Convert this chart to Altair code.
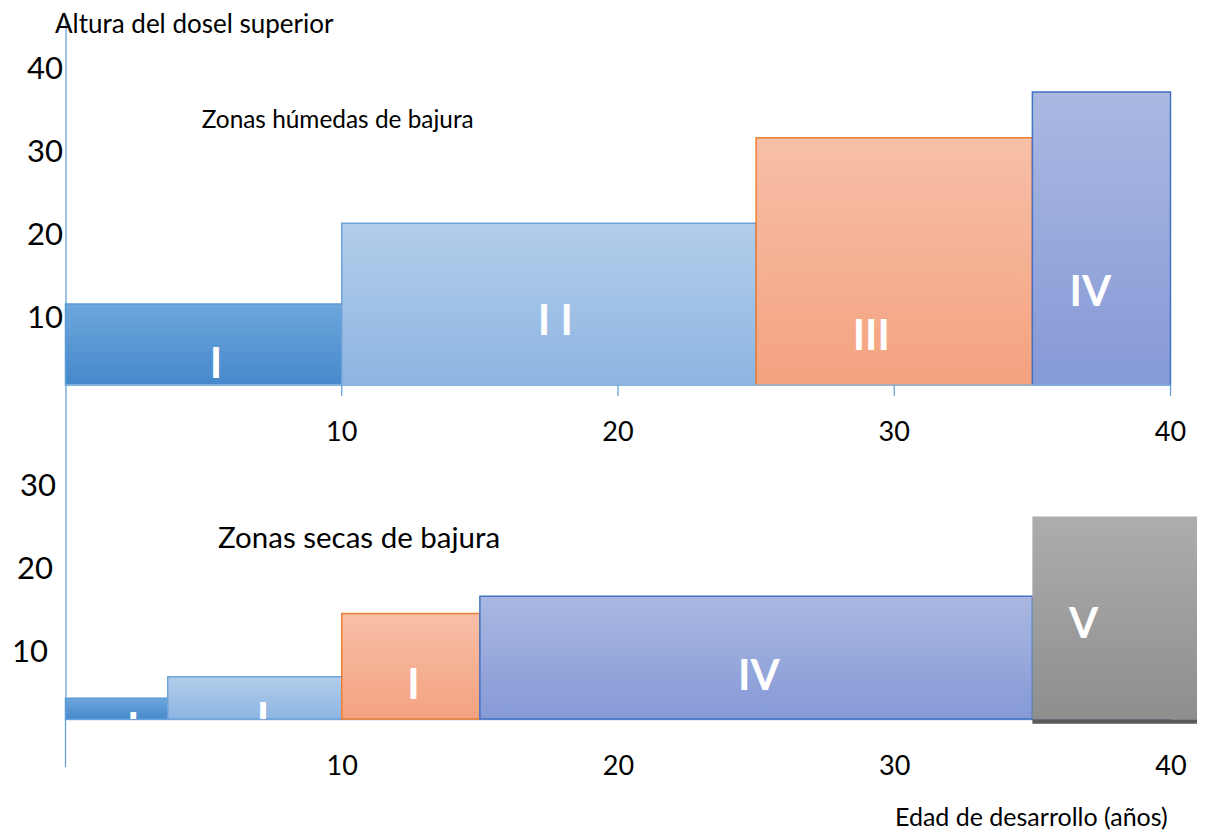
import altair as alt
import pandas as pd

# ---------------- data ----------------
# upper panel: "Zonas húmedas de bajura"
top_cls = ["I", "II", "III", "IV"]
top_x0 = [0, 10, 25, 35]
top_x1 = [10, 25, 35, 40]
top_h = [9.75, 19.5, 29.8, 35.3]

# lower panel: "Zonas secas de bajura"
bot_cls = ["I", "II", "III", "IV", "V"]
bot_x0 = [0, 3.7, 10, 15, 35]
bot_x1 = [3.7, 10, 15, 35, 41.2]
bot_h = [2.5, 5.1, 12.7, 14.8, 24.4]

# stage numerals (label anchor in data units: centre x, glyph baseline height)
top_lab = ["I", "I I", "III", "IV"]
top_lab_x = [5.45, 17.73, 29.17, 37.1]
top_lab_y = [0.84, 6.0, 4.2, 9.5]
bot_lab = ["I", "I", "I", "IV", "V"]
bot_lab_x = [2.45, 7.15, 12.6, 25.1, 36.85]
bot_lab_y = [-2.9, -1.7, 2.4, 3.5, 9.8]

x_ticks = [10, 20, 30, 40]
top_y_ticks = [10, 20, 30, 40]
bot_y_ticks = [10, 20, 30]
x_domain = [0, 40]

# layout constants (units of height): upper panel baseline sits above the lower one
OFF = 40.24
Y_TOP = 84.46

# ---------------- tables ----------------
bars = pd.DataFrame({
    "panel": ["top"] * len(top_cls) + ["bot"] * len(bot_cls),
    "cls": top_cls + bot_cls,
    "x0": top_x0 + bot_x0,
    "x1": top_x1 + bot_x1,
    "h": top_h + bot_h,
})
labs = pd.DataFrame({
    "panel": ["top"] * len(top_lab) + ["bot"] * len(bot_lab),
    "lab": top_lab + bot_lab,
    "lx": top_lab_x + bot_lab_x,
    "ly": top_lab_y + bot_lab_y,
})
ticks_df = pd.DataFrame({"t": x_ticks, "yb": [OFF] * len(x_ticks)})
topaxis_df = pd.DataFrame({"x0": [x_domain[0]], "x1": [x_domain[1]], "yb": [OFF]})
yext_df = pd.DataFrame({"x0": [x_domain[0]], "yb": [0.0]})

yvals = bot_y_ticks + [OFF + v for v in top_y_ticks]

xscale = alt.Scale(domain=x_domain, nice=False, zero=False)
yscale = alt.Scale(domain=[0, Y_TOP], nice=False, zero=False)

AXIS_BLUE = "#5B9BD5"

xaxis = alt.Axis(
    values=x_ticks, ticks=False, grid=False, domainColor="#8DB4E2", domainWidth=1.5,
    labelFont="Lato", labelFontSize=27, labelColor="black", labelPadding=34,
    labelFlush=False, labelOverlap=False, title=None,
)
yaxis = alt.Axis(
    values=yvals, ticks=False, tickSize=0, grid=False, domainColor=AXIS_BLUE, domainWidth=1.2,
    labelFont="Lato", labelFontSize=31, labelColor="black", labelOffset=16,
    labelExpr=f"datum.value > {OFF + 5} ? format(datum.value - {OFF}, '.0f') : format(datum.value, '.0f')",
    labelPadding={"condition": [
        {"test": "datum.value == 10", "value": 18},
        {"test": "datum.value == 20", "value": 13},
        {"test": "datum.value == 30", "value": 10},
    ], "value": 3},
    labelOverlap=False, title=None,
)


def X(f):
    return alt.X(f, type="quantitative", scale=xscale, axis=xaxis)


def Y(f):
    return alt.Y(f, type="quantitative", scale=yscale, axis=yaxis)


styles = {
    "I": ("#6EA6DC", "#4589CB", "#5B9BD5"),
    "II": ("#B3CDEA", "#8DB5E2", "#6FA3DA"),
    "III": ("#F7BFA8", "#F4A27F", "#ED7D31"),
    "IV": ("#AAB9E2", "#8599D6", "#4472C4"),
    "V": ("#ADADAD", "#8E8E8E", None),
}

bar_base = alt.Chart(bars).transform_calculate(
    y0=f"datum.panel == 'top' ? {OFF} : 0"
).transform_calculate(y1="datum.y0 + datum.h")

layers = []
for cls, (ctop, cbot, stroke) in styles.items():
    grad = alt.Gradient(
        gradient="linear", x1=0, x2=0, y1=0, y2=1,
        stops=[alt.GradientStop(offset=0, color=ctop), alt.GradientStop(offset=1, color=cbot)],
    )
    kw = dict(fill=grad)
    if stroke:
        kw.update(stroke=stroke, strokeWidth=1.5)
    else:
        kw.update(strokeWidth=0)
    layers.append(
        bar_base.transform_filter(alt.datum.cls == cls)
        .mark_rect(**kw)
        .encode(x=X("x0"), x2="x1", y=Y("y1"), y2="y0")
    )

# dark bottom edge under the grey bar
shadow = (
    bar_base.transform_filter(alt.datum.cls == "V")
    .mark_rule(color="#595959", strokeWidth=4.5, yOffset=2.5)
    .encode(x=X("x0"), x2="x1", y=Y("y0"))
)

# upper panel axis line, ticks and tick labels
top_axis = alt.Chart(topaxis_df).mark_rule(color="#8DB4E2", strokeWidth=1.5).encode(
    x=X("x0"), x2="x1", y=Y("yb"))
top_ticks = alt.Chart(ticks_df).mark_rule(color=AXIS_BLUE, strokeWidth=1.2, y2Offset=11).encode(
    x=X("t"), y=Y("yb"), y2="yb")
top_tick_labels = alt.Chart(ticks_df).mark_text(
    font="Lato", fontSize=27, color="black", baseline="top", dy=35, align="center"
).encode(x=X("t"), y=Y("yb"), text=alt.Text("t:Q", format=".0f"))

# extension of the vertical axis below the lower panel
yext = alt.Chart(yext_df).mark_rule(color=AXIS_BLUE, strokeWidth=1.2, y2Offset=48).encode(
    x=X("x0"), y=Y("yb"), y2="yb")

numerals = alt.Chart(labs).transform_calculate(
    yy=f"datum.ly + (datum.panel == 'top' ? {OFF} : 0)"
).mark_text(
    font="Lato", fontWeight="bold", fontSize=42, color="white",
    baseline="alphabetic", align="center", clip=True,
).encode(x=X("lx"), y=Y("yy"), text="lab:N")

one = pd.DataFrame({"a": [0]})


def note(txt, px, py, size):
    return alt.Chart(one).mark_text(
        text=txt, font="Lato", fontSize=size, color="black", align="left", baseline="alphabetic"
    ).encode(x=alt.value(px), y=alt.value(py))


notes = [
    note("Altura del dosel superior", -10.5, 15, 26),
    note("Zonas húmedas de bajura", 136.2, 110.3, 24.4),
    note("Zonas secas de bajura", 152.5, 530, 29.5),
    note("Edad de desarrollo (años)", 829.5, 808, 25),
]

chart = alt.layer(
    *layers, shadow, top_axis, top_ticks, top_tick_labels, yext, numerals, *notes
).properties(
    width=1105, height=701,
    autosize=alt.AutoSizeParams(type="none"),
    padding={"left": 57.5, "top": 10, "right": 26.5, "bottom": 112},
).configure_view(stroke=None)

chart.save("out.html", embed_options={"renderer": "svg", "actions": False})
